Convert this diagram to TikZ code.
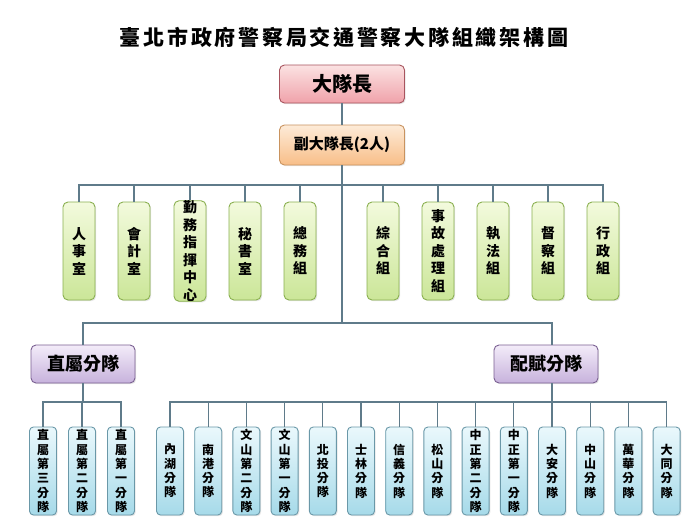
\documentclass[tikz,border=0pt]{standalone}
\usepackage{fontspec}
\newfontfamily\cjk{Noto Sans CJK TC}
\usetikzlibrary{positioning, shadows}
\definecolor{cLine}{HTML}{5F7B8A}
\definecolor{cChief}{HTML}{A8545E}
\definecolor{cChiefT}{HTML}{FBE2E2}
\definecolor{cChiefB}{HTML}{F0A2AA}
\definecolor{cVice}{HTML}{C9935F}
\definecolor{cViceT}{HTML}{FDEBD8}
\definecolor{cViceB}{HTML}{F8BE88}
\definecolor{cOffice}{HTML}{8AB050}
\definecolor{cOfficeT}{HTML}{F3FADD}
\definecolor{cOfficeB}{HTML}{CBE698}
\definecolor{cSquad}{HTML}{7A6092}
\definecolor{cSquadT}{HTML}{F3ECF9}
\definecolor{cSquadB}{HTML}{C7B2DC}
\definecolor{cUnit}{HTML}{6A98A8}
\definecolor{cUnitT}{HTML}{EAF8FC}
\definecolor{cUnitB}{HTML}{A6DAE9}

\begin{document}
\begin{tikzpicture}[
  x=1pt, y=-1pt,
  font=\cjk\bfseries,
  box/.style={rounded corners=5pt, line width=0.9pt, inner sep=0pt, align=center,
              drop shadow={opacity=0.2, shadow xshift=1.2pt, shadow yshift=-1.2pt}},
  chief/.style={box, draw=cChief, top color=cChiefT, bottom color=cChiefB,
                minimum width=125pt, minimum height=38pt,
                font=\cjk\bfseries\fontsize{20}{24}\selectfont},
  vice/.style={box, draw=cVice, top color=cViceT, bottom color=cViceB,
               minimum width=125pt, minimum height=40pt,
               font=\cjk\bfseries\fontsize{15}{18}\selectfont},
  office/.style={box, draw=cOffice, top color=cOfficeT, bottom color=cOfficeB,
                 minimum width=32pt, minimum height=98pt,
                 font=\cjk\bfseries\fontsize{14}{17.5}\selectfont},
  squad/.style={box, draw=cSquad, top color=cSquadT, bottom color=cSquadB,
                minimum width=104pt, minimum height=38pt,
                font=\cjk\bfseries\fontsize{18}{22}\selectfont},
  unit/.style={box, draw=cUnit, top color=cUnitT, bottom color=cUnitB,
               minimum width=27pt, minimum height=88pt, rounded corners=4pt,
               font=\cjk\bfseries\fontsize{12}{14.3}\selectfont},
  link/.style={draw=cLine, line width=1.1pt},
]

\fill[white] (0,0) rectangle (700,525);
\useasboundingbox (0,0) rectangle (700,525);

% ---- Title --------------------------------------------------------------
\node[font=\cjk\bfseries\fontsize{21}{25}\selectfont\addfontfeature{LetterSpace=13}]
  (title) at (344,37) {臺北市政府警察局交通警察大隊組織架構圖};

% ---- Command ------------------------------------------------------------
\node[chief] (chief) at (342,84) {大隊長};
\node[vice] (vice) at (342,145) {副大隊長(2人)};

\coordinate (bar1) at (342,185);
\coordinate (bar2) at (342,323);

% ---- Offices and sections -----------------------------------------------
\foreach \xx/\t [count=\i] in {79/人\\事\\室, 134/會\\計\\室,
    190/勤\\務\\指\\揮\\中\\心, 245/秘\\書\\室, 300/總\\務\\組,
    383/綜\\合\\組, 438/事\\故\\處\\理\\組, 493/執\\法\\組,
    548/督\\察\\組, 603/行\\政\\組} {
  \node[office] (g\i) at (\xx,251) {\t};
}

% ---- Squads -------------------------------------------------------------
\node[squad] (zs) at (83,364) {直屬分隊};
\node[squad] (ps) at (546,364) {配賦分隊};

% direct squads
\foreach \xx/\t [count=\i] in {43/直\\屬\\第\\三\\分\\隊,
    82/直\\屬\\第\\二\\分\\隊, 121/直\\屬\\第\\一\\分\\隊} {
  \node[unit] (z\i) at (\xx,471) {\t};
}

% assigned squads
\foreach \t [count=\i] in {內\\湖\\分\\隊, 南\\港\\分\\隊, 文\\山\\第\\二\\分\\隊,
    文\\山\\第\\一\\分\\隊, 北\\投\\分\\隊, 士\\林\\分\\隊, 信\\義\\分\\隊,
    松\\山\\分\\隊, 中\\正\\第\\二\\分\\隊, 中\\正\\第\\一\\分\\隊,
    大\\安\\分\\隊, 中\\山\\分\\隊, 萬\\華\\分\\隊, 大\\同\\分\\隊} {
  \pgfmathsetmacro{\xpos}{170 + 38.2*(\i-1)}
  \node[unit] (b\i) at (\xpos,471) {\t};
}

\coordinate (zbar) at (83,402);
\coordinate (pbar) at (b11 |- zbar);

% ---- Connections --------------------------------------------------------
\draw[link] (chief) -- (vice);
\draw[link] (vice.south) -- (bar2);
\foreach \i in {1,...,10} { \draw[link] (bar1) -| (g\i.north); }
\draw[link] (bar2) -| (zs.north);
\draw[link] (bar2) -| (ps.north -| b11);
\draw[link] (zs.south) -- (zbar);
\foreach \i in {1,2,3} { \draw[link] (zbar) -| (z\i.north); }
\draw[link] (ps.south -| b11) -- (pbar);
\foreach \i in {1,...,14} { \draw[link] (pbar) -| (b\i.north); }

\end{tikzpicture}
\end{document}
